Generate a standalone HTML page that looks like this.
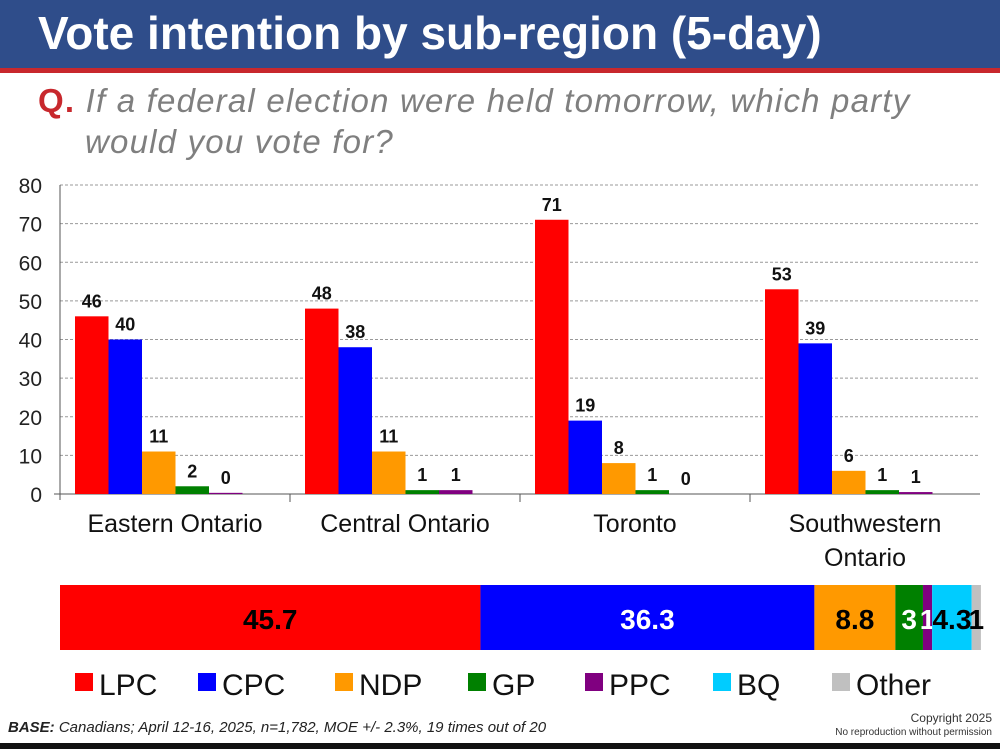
<!DOCTYPE html>
<html><head><meta charset="utf-8"><style>
body{margin:0;width:1000px;height:749px;overflow:hidden;background:#fff;font-family:"Liberation Sans",sans-serif;position:relative}
.hdr{position:absolute;left:0;top:0;width:1000px;height:68px;background:#2f4d8a}
.hdr h1{margin:0;position:absolute;left:38px;top:6px;color:#fff;font-size:46px;font-weight:bold;white-space:nowrap}
.rl{position:absolute;left:0;top:68px;width:1000px;height:5px;background:#c8282d}
.q{position:absolute;left:38px;top:80px;font-size:33px;letter-spacing:1.2px;font-style:italic;color:#7f7f7f;line-height:41px;white-space:nowrap}
.q b{color:#c8282d;font-style:normal}
.q span{display:block;padding-left:47px}
.foot{position:absolute;left:8px;top:719px;font-size:15px;font-style:italic;color:#222}
.copy{position:absolute;right:8px;top:712px;text-align:right;font-size:12px;color:#333;line-height:13px}
.copy small{font-size:10px}
.bb{position:absolute;left:0;top:743px;width:1000px;height:6px;background:#111}
</style></head><body>
<div class="hdr"><h1>Vote intention by sub-region (5-day)</h1></div>
<div class="rl"></div>
<div class="q"><b>Q.</b> If a federal election were held tomorrow, which party<span>would you vote for?</span></div>
<svg id="c" width="1000" height="749" style="position:absolute;left:0;top:0"></svg>
<div class="foot"><b>BASE:</b> Canadians; April 12-16, 2025, n=1,782, MOE +/- 2.3%, 19 times out of 20</div>
<div class="copy">Copyright 2025<br><small>No reproduction without permission</small></div>
<div class="bb"></div>
<script>
const regions=[["Eastern Ontario"],["Central Ontario"],["Toronto"],["Southwestern","Ontario"]];
const parties=["LPC","CPC","NDP","GP","PPC"];
const colors=["#ff0000","#0000ff","#ff9900","#008000","#800080"];
const values=[[46,40,11,2,0.3],[48,38,11,1,1],[71,19,8,1,0],[53,39,6,1,0.5]];
const labels=[["46","40","11","2","0"],["48","38","11","1","1"],["71","19","8","1","0"],["53","39","6","1","1"]];
const yTicks=[0,10,20,30,40,50,60,70,80];
const totParties=["LPC","CPC","NDP","GP","PPC","BQ","Other"];
const totValues=[45.7,36.3,8.8,3,1,4.3,1];
const totColors=["#ff0000","#0000ff","#ff9900","#008000","#800080","#00ccff","#c0c0c0"];
const totText=["#000","#fff","#000","#fff","#fff","#000","#000"];
const svg=document.getElementById('c');const NS="http://www.w3.org/2000/svg";
function mk(t,a,txt){const e=document.createElementNS(NS,t);for(const k in a)e.setAttribute(k,a[k]);if(txt!==undefined)e.textContent=txt;svg.appendChild(e);return e;}
const x0=60,x1=980,y0=494,y80=185;
const Y=v=>y0-(v/80)*(y0-y80);
const gw=(x1-x0)/regions.length,bw=33.5,off=15;
for(const t of yTicks){
 if(t>0){const l=mk('line',{x1:x0,x2:x1,y1:Y(t),y2:Y(t),stroke:'#999','stroke-dasharray':'3,2'});
 
 }
 const tx=mk('text',{x:x0-18,y:Y(t)+8,'text-anchor':'end','font-size':'21',fill:'#222'},String(t));
 
 
}
const ax=mk('line',{x1:x0,x2:x0,y1:y80,y2:y0+6,stroke:'#555'});


const bx=mk('line',{x1:x0-6,x2:x1,y1:y0,y2:y0,stroke:'#555'});


regions.forEach((r,g)=>{
 const gx=x0+g*gw;
 if(g>0){const tk=mk('line',{x1:gx,x2:gx,y1:y0,y2:y0+8,stroke:'#555'});
 
 }
 values[g].forEach((v,i)=>{
  const bx=gx+off+i*bw;
  const b=mk('rect',{x:bx,y:Y(v),width:bw,height:y0-Y(v),fill:colors[i]});
  
  
  const t=mk('text',{x:bx+bw/2,y:Y(v)-9,'text-anchor':'middle','font-size':'18','font-weight':'bold',fill:'#111'},labels[g][i]);
  
  
 });
 r.forEach((ln,k)=>{
  const t=mk('text',{x:gx+gw/2,y:532+k*34,'text-anchor':'middle','font-size':'25',fill:'#111'},ln);
  
  
 });
});
const sx=9.2;let cx=60;
totValues.forEach((v,i)=>{
 const w=v*sx;
 const r=mk('rect',{x:cx,y:585,width:w,height:65,fill:totColors[i]});
 
 
 const t=mk('text',{x:cx+w/2,y:629,'text-anchor':'middle','font-size':'28','font-weight':'bold',fill:totText[i]},String(v));
 
 
 cx+=w;
});
const lx=[75,198,335,468,585,713,832];
totParties.forEach((p,i)=>{
 const s=mk('rect',{x:lx[i],y:673,width:18,height:18,fill:totColors[i]});
 
 
 const t=mk('text',{x:lx[i]+24,y:695,'font-size':'30',fill:'#111'},p);
 
 
});
</script>
</body></html>
